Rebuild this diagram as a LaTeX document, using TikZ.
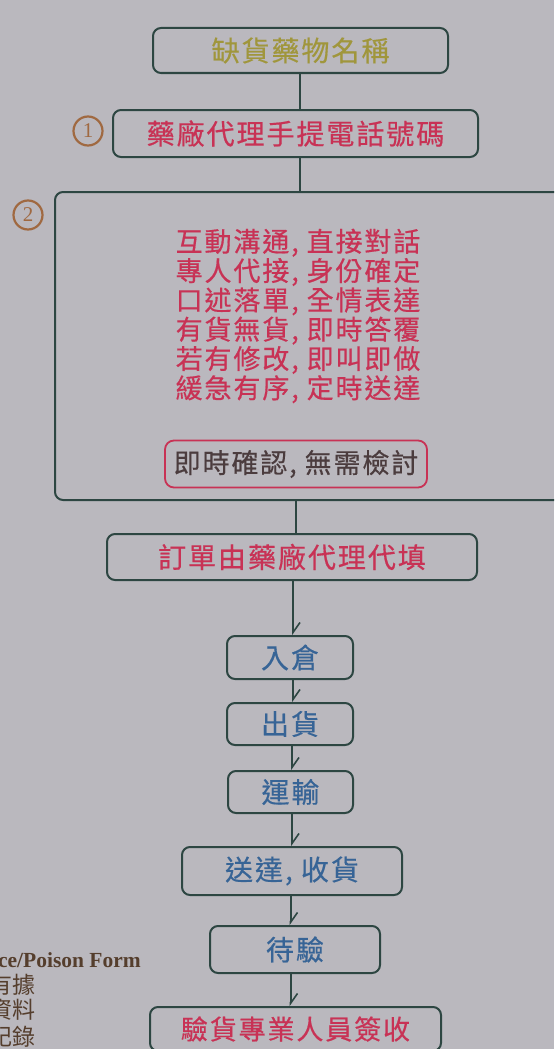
\documentclass[tikz,border=0pt]{standalone}
\usepackage{fontspec}
\setmainfont{Liberation Serif}
\newfontfamily\cjk[FakeBold=0.5, LetterSpace=7]{Noto Sans CJK TC}
\newfontfamily\cjkplain{Noto Sans CJK TC}
\usetikzlibrary{arrows.meta}
\definecolor{bgc}{RGB}{186,184,190}
\definecolor{edge}{RGB}{45,70,66}
\definecolor{olivetxt}{RGB}{160,150,60}
\definecolor{redtxt}{RGB}{200,50,85}
\definecolor{bluetxt}{RGB}{55,100,150}
\definecolor{darktxt}{RGB}{75,60,62}
\definecolor{circc}{RGB}{160,105,65}
\definecolor{browntxt}{RGB}{85,62,45}
\tikzset{
  flowbox/.style={draw=edge, line width=2pt, rounded corners=8pt, inner sep=0pt, font=\cjk\fontsize{28}{30}\selectfont},
  conn/.style={draw=edge, line width=2pt},
  arr/.style={conn, -{Straight Barb[left, length=10pt, width=14pt, line width=1.6pt]}},
  numc/.style={draw=circc, circle, line width=2.2pt, minimum size=29pt, inner sep=0pt, text=circc, font=\fontsize{21}{21}\selectfont}
}
\begin{document}
\begin{tikzpicture}[x=1pt,y=-1pt]
\fill[bgc] (0,0) rectangle (554,1049);
\clip (0,0) rectangle (554,1049);
% boxes
\node[flowbox, minimum width=295pt, minimum height=45pt, text=olivetxt] (b1) at (300.5,50.5) {缺貨藥物名稱};
\node[flowbox, minimum width=365pt, minimum height=47pt, text=redtxt] (b2) at (295.5,133.5) {藥廠代理手提電話號碼};
\node[flowbox, minimum width=520pt, minimum height=308pt] (b3) at (315,346) {};
\node[font=\cjk\fontsize{27}{29.3}\selectfont, text=redtxt, align=left, inner sep=0pt] (t3) at (298,316) {互動溝通, 直接對話\\專人代接, 身份確定\\口述落單, 全情表達\\有貨無貨, 即時答覆\\若有修改, 即叫即做\\緩急有序, 定時送達};
\node[draw=redtxt, line width=1.8pt, rounded corners=9pt, minimum width=262pt, minimum height=47pt, inner sep=0pt, text=darktxt, font=\cjk\fontsize{27}{29}\selectfont] (b3i) at (296,464) {即時確認, 無需檢討};
\node[flowbox, minimum width=370pt, minimum height=46pt, text=redtxt] (b4) at (292,557) {訂單由藥廠代理代填};
\node[flowbox, minimum width=126pt, minimum height=43pt, text=bluetxt] (b5) at (290,657.5) {入倉};
\node[flowbox, minimum width=126pt, minimum height=42pt, text=bluetxt] (b6) at (290,724) {出貨};
\node[flowbox, minimum width=125pt, minimum height=42pt, text=bluetxt] (b7) at (290.5,792) {運輸};
\node[flowbox, minimum width=220pt, minimum height=48pt, text=bluetxt] (b8) at (292,871) {送達, 收貨};
\node[flowbox, minimum width=170pt, minimum height=47pt, text=bluetxt] (b9) at (295,949.5) {待驗};
\node[flowbox, minimum width=291pt, minimum height=44pt, text=redtxt, font=\cjk\fontsize{27}{29}\selectfont] (b10) at (295.5,1029) {驗貨專業人員簽收};
% numbers
\node[numc] (n1) at (88,131) {1};
\node[numc] (n2) at (28,215) {2};
% connectors
\coordinate (c1) at (300,0);
\draw[conn] (b1.south -| c1) -- (b2.north -| c1);
\draw[conn] (b2.south -| c1) -- (b3.north -| c1);
\coordinate (c2) at (296,0);
\draw[conn] (b3.south -| c2) -- (b4.north -| c2);
\coordinate (c3) at (293,0);
\draw[arr] (b4.south -| c3) -- (b5.north -| c3);
\draw[arr] (b5.south -| c3) -- (b6.north -| c3);
\coordinate (c4) at (292,0);
\draw[arr] (b6.south -| c4) -- (b7.north -| c4);
\draw[arr] (b7.south -| c4) -- (b8.north -| c4);
\coordinate (c5) at (290.5,0);
\draw[arr] (b8.south -| c5) -- (b9.north -| c5);
\draw[arr] (b9.south -| c5) -- (b10.north -| c5);
% cut-off side text (cut at the page edge as in the reference)
\node[anchor=base east, font=\bfseries\fontsize{21.5}{22}\selectfont, text=browntxt, inner sep=0pt] (s1) at (141,967) {ce/Poison Form};
\node[anchor=base east, font=\cjkplain\fontsize{23}{23}\selectfont, text=browntxt, inner sep=0pt] (s2) at (36,993) {有據};
\node[anchor=base east, font=\cjkplain\fontsize{23}{23}\selectfont, text=browntxt, inner sep=0pt] (s3) at (36,1018) {資料};
\node[anchor=base east, font=\cjkplain\fontsize{23}{23}\selectfont, text=browntxt, inner sep=0pt] (s4) at (36,1045) {記錄};
\end{tikzpicture}
\end{document}
